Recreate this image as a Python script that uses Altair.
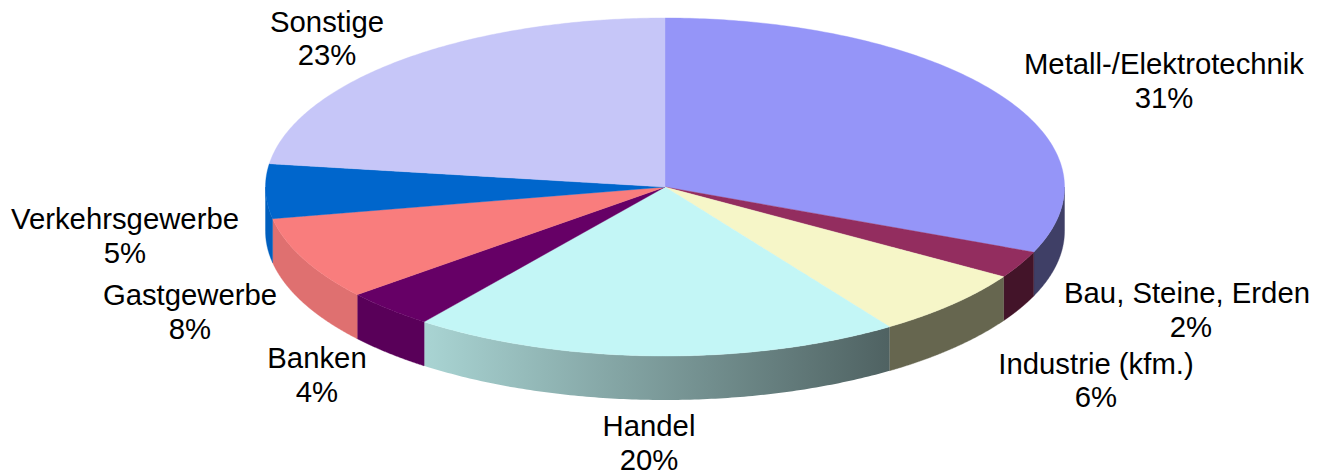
import numpy as np
import pandas as pd
import altair as alt

names = ["Metall-/Elektrotechnik", "Bau, Steine, Erden", "Industrie (kfm.)", "Handel",
         "Banken", "Gastgewerbe", "Verkehrsgewerbe", "Sonstige"]
labels_pct = ["31%", "2%", "6%", "20%", "4%", "8%", "5%", "23%"]
shares = [31.3, 2.6, 6.6, 19.8, 3.7, 8.0, 5.2, 22.8]
top_colors = ["#9595F8", "#932D5F", "#F6F6C8", "#C3F6F6", "#660066", "#F97D7D", "#0066CC", "#C6C6F8"]
wall_colors = ["#3F3F66", "#431429", "#66664F", None, "#590059", "#DF7070", "#005FBE", None]
gradient_stops = ["#A9D4D3", "#4F6262"]
label_cx = [1164, 1187, 1096, 649, 317, 190, 125, 327]
label_cx2 = [1164, 1191, 1096, 649, 317, 190, 125, 327]
label_y1 = [65, 294, 365, 427, 359, 296, 220, 23]
label_y2 = [99, 328, 398, 461, 393, 330, 254, 56]

CX, CY, A, B, DEPTH = 665.0, 187.0, 399.5, 169.0, 44.0
W, H = 1302, 465
xs = alt.Scale(domain=[8, 8 + W], range=[0, W], nice=False, zero=False)
ys = alt.Scale(domain=[8 + H, 8], range=[H, 0], nice=False, zero=False)
enc_x = alt.X("x:Q", scale=xs, axis=None)
enc_y = alt.Y("y:Q", scale=ys, axis=None)
enc_y2 = alt.Y2("y2:Q")


def ellipse(t):
    return CX + A * np.sin(t), CY - B * np.cos(t)


def sector_frame(t0, t1):
    t = np.linspace(t0, t1, 160)
    px, py = ellipse(t)
    px = np.concatenate([[CX], px, [CX]])
    py = np.concatenate([[CY], py, [CY]])
    rows = []
    for x in np.unique(np.round(px, 3)):
        hits = []
        for i in range(len(px) - 1):
            x1, x2, y1, y2 = px[i], px[i + 1], py[i], py[i + 1]
            lo, hi = min(x1, x2) - 1e-3, max(x1, x2) + 1e-3
            if lo <= x <= hi:
                if abs(x2 - x1) < 1e-6:
                    hits += [y1, y2]
                else:
                    hits.append(y1 + (y2 - y1) * np.clip((x - x1) / (x2 - x1), 0, 1))
        rows.append({"x": x, "y": min(hits), "y2": max(hits)})
    return pd.DataFrame(rows)


def wall_frame(t0, t1):
    # visible front part of the rim: from 90 deg to 270 deg clockwise from the top
    a0, a1 = max(t0, np.pi / 2), min(t1, 3 * np.pi / 2)
    if a1 <= a0:
        return None
    t = np.linspace(a0, a1, 120)
    px, py = ellipse(t)
    df = pd.DataFrame({"x": px, "y": py, "y2": py + DEPTH})
    return df.sort_values("x")


edges = np.concatenate([[0], np.cumsum(shares)]) / np.sum(shares) * 2 * np.pi
layers = []

for i, wall in enumerate(wall_colors):
    df = wall_frame(edges[i], edges[i + 1])
    if df is None:
        continue
    if wall is None:
        fill = alt.Gradient(
            gradient="linear",
            stops=[alt.GradientStop(color=gradient_stops[0], offset=0),
                   alt.GradientStop(color=gradient_stops[1], offset=1)],
            x1=0, x2=1, y1=0, y2=0,
        )
        mark = alt.Chart(df).mark_area(color=fill)
    else:
        mark = alt.Chart(df).mark_area(color=wall, stroke=wall, strokeWidth=0.4)
    layers.append(mark.encode(x=enc_x, y=enc_y, y2=enc_y2))

for i, col in enumerate(top_colors):
    df = sector_frame(edges[i], edges[i + 1])
    layers.append(
        alt.Chart(df).mark_area(color=col, stroke=col, strokeWidth=0.4)
        .encode(x=enc_x, y=enc_y, y2=enc_y2)
    )

text_df = pd.DataFrame(
    {"x": label_cx + label_cx2, "y": label_y1 + label_y2, "t": names + labels_pct}
)
layers.append(
    alt.Chart(text_df)
    .mark_text(font="Liberation Sans", fontSize=29.3, color="black", align="center", baseline="middle")
    .encode(x=enc_x, y=enc_y, text="t:N")
)

chart = (
    alt.layer(*layers)
    .properties(
        width=W, height=H, padding=0,
        autosize=alt.AutoSizeParams(type="none"),
        view=alt.ViewBackground(stroke="transparent", strokeWidth=0),
    )
    .configure_view(stroke="transparent", strokeWidth=0)
)
chart.save("out.html", embed_options={"renderer": "svg", "actions": False})
